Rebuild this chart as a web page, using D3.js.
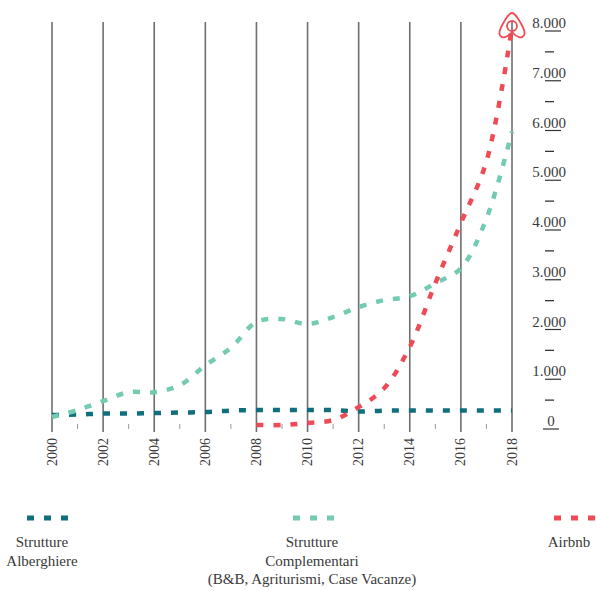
<!DOCTYPE html>
<html><head><meta charset="utf-8">
<script src="https://cdn.jsdelivr.net/npm/d3@7"></script>
<style>body{margin:0;background:#fff}svg{display:block}</style>
</head><body><svg id="c" width="596" height="591" font-family="'Liberation Serif', 'DejaVu Serif', serif"></svg>
<script>
const years = d3.range(2000, 2019);
const alberghiere = [200,210,230,230,240,250,260,290,300,300,300,300,270,290,290,290,290,290,290];
const complementari = [160,300,480,660,660,800,1200,1550,2070,2130,2030,2170,2370,2510,2590,2850,3150,4150,5900];
const airbnbYears = d3.range(2008, 2019);
const airbnb = [0,0,40,100,360,740,1570,2850,4060,5300,8000];
const yTicks = [0,1000,2000,3000,4000,5000,6000,7000,8000];
const xLabels = d3.range(2000, 2019, 2);
const seriesNames = [["Strutture","Alberghiere"],["Strutture","Complementari","(B&B, Agriturismi, Case Vacanze)"],["Airbnb"]];
const colors = ["#0f6f7d","#72cbb2","#ef4b57"];

const svg = d3.select("#c");
const x = d3.scaleLinear().domain([2000,2018]).range([52,512]);
const y = d3.scaleLinear().domain([0,8000]).range([425,27]);
const txt = "#3a3a3a";

// vertical grid lines
svg.append("g").selectAll("line").data(xLabels).join("line")
  .attr("x1", d=>x(d)).attr("x2", d=>x(d)).attr("y1", 22).attr("y2", 432)
  .attr("stroke", "#6e6e6e").attr("stroke-width", 1.6);
// odd-year minor ticks
svg.append("g").selectAll("line").data(years.filter(d=>d%2)).join("line")
  .attr("x1", d=>x(d)).attr("x2", d=>x(d)).attr("y1", 424).attr("y2", 429)
  .attr("stroke", "#999").attr("stroke-width", 1);
// x labels
svg.append("g").selectAll("text").data(xLabels).join("text")
  .attr("transform", d=>`translate(${x(d)+4.5},438) rotate(-90)`)
  .attr("text-anchor","end").attr("font-size", 14).attr("fill", txt).text(d=>d);

// y labels
const fmt = d => d===0 ? "0" : d3.format(",")(d).replace(",", ".");
const yl = svg.append("g");
yl.selectAll("text").data(yTicks).join("text")
  .attr("x", d=>d===0?551:549).attr("y", d=>y(d)+1).attr("text-anchor","middle")
  .attr("font-size", 15).attr("fill", txt).text(fmt);
yl.selectAll("line.u").data(yTicks).join("line").attr("class","u")
  .attr("x1", d=>d===0?543:545).attr("x2", d=>d===0?559:561)
  .attr("y1", d=>y(d)+4).attr("y2", d=>y(d)+4)
  .attr("stroke","#333").attr("stroke-width",1.2);
yl.selectAll("line.m").data(yTicks.slice(0,-1)).join("line").attr("class","m")
  .attr("x1", 545).attr("x2", 554)
  .attr("y1", d=>y(d+500)).attr("y2", d=>y(d+500))
  .attr("stroke","#333").attr("stroke-width",1.3);

// lines
const line = d3.line().x(d=>x(d[0])).y(d=>y(d[1])).curve(d3.curveCatmullRom.alpha(0.5));
const data = [
  years.map((yr,i)=>[yr, alberghiere[i]]),
  years.map((yr,i)=>[yr, complementari[i]]),
  airbnbYears.map((yr,i)=>[yr, airbnb[i]])
];
data.forEach((d,i)=>{
  svg.append("path").datum(d).attr("d", line).attr("fill","none")
    .attr("stroke", colors[i]).attr("stroke-width", 4.5).attr("stroke-dasharray","7,10");
});

// Airbnb logo
const lg = svg.append("g").attr("transform", `translate(${x(2018)},${y(8000)})`);
lg.append("path").attr("d","M0,5 C-4,10 -11,13 -12.5,7 C-13.5,3 -4,-14 0,-14 C4,-14 13.5,3 12.5,7 C11,13 4,10 0,5 Z")
  .attr("fill","none").attr("stroke", colors[2]).attr("stroke-width",1.8);
lg.append("circle").attr("cx",0).attr("cy",-1).attr("r",5).attr("fill","none")
  .attr("stroke", colors[2]).attr("stroke-width",1.8);

// legend
const legX = [42, 312, 569];
const legDashX = [27, 293, 554];
seriesNames.forEach((names,i)=>{
  svg.append("line").attr("x1", legDashX[i]).attr("x2", legDashX[i]+42)
    .attr("y1", 518).attr("y2", 518).attr("stroke", colors[i]).attr("stroke-width",5)
    .attr("stroke-dasharray","7,10");
  names.forEach((t,j)=>{
    svg.append("text").attr("x", legX[i]).attr("y", 547 + j*18.5)
      .attr("text-anchor","middle").attr("font-size", 15).attr("fill", txt).text(t);
  });
});
</script></body></html>
